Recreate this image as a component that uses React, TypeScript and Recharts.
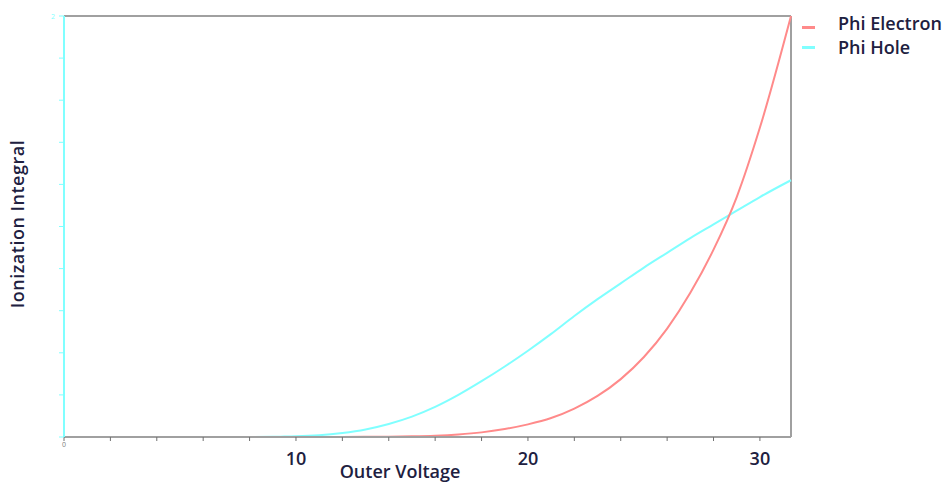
import React from 'react';
import { LineChart, Line, XAxis, YAxis, ReferenceLine, Legend } from 'recharts';

const voltage = [0.3, 2, 4, 6, 8, 9, 9.5, 10, 11, 12, 13, 14, 15, 16, 17, 18, 19, 20, 21, 22, 23, 24, 25, 26, 27, 28, 29, 30, 31.34];
const phiHole = [0, 0, 0, 0, 0, 0.001, 0.002, 0.003, 0.008, 0.019, 0.036, 0.062, 0.097, 0.143, 0.2, 0.265, 0.335, 0.41, 0.49, 0.575, 0.655, 0.73, 0.805, 0.875, 0.945, 1.01, 1.075, 1.14, 1.22];
const phiElectron = [null, null, null, null, null, null, 0, 0, 0.0002, 0.0004, 0.0008, 0.0015, 0.003, 0.006, 0.012, 0.022, 0.038, 0.06, 0.09, 0.135, 0.195, 0.275, 0.38, 0.515, 0.685, 0.89, 1.14, 1.47, 2.0];

const xTicks = [0, 2, 4, 6, 8, 10, 12, 14, 16, 18, 20, 22, 24, 26, 28, 30];
const xLabeled = [0, 10, 20, 30];
const yTicks = [0, 0.2, 0.4, 0.6, 0.8, 1, 1.2, 1.4, 1.6, 1.8, 2];
const X_MAX = 31.34;
const Y_MAX = 2;

const seriesNames = ['Phi Electron', 'Phi Hole'];
const RED = '#ff8a8a';
const CYAN = '#80ffff';
const FONT = '"Open Sans", sans-serif';
const TEXT = '#202040';

const rows = voltage.map((v, i) => ({ v, hole: phiHole[i], electron: phiElectron[i] }));

const XTick = (props: any) => {
  const { x, y, payload } = props;
  const val = payload.value;
  if (!xLabeled.includes(val)) return null;
  if (val === 0) {
    return (
      <text x={x} y={y + 4} textAnchor="middle" fontSize={7} fill="#808080" fontFamily={FONT}>
        0
      </text>
    );
  }
  return (
    <text x={x} y={y + 22} textAnchor="middle" fontSize={18} fontWeight={600} fill={TEXT} fontFamily={FONT}>
      {val}
    </text>
  );
};

const YTick = (props: any) => {
  const { x, y, payload } = props;
  if (payload.value !== 2) return null;
  return (
    <text x={x - 2} y={y + 2.5} textAnchor="end" fontSize={7} fill={CYAN} fontFamily={FONT}>
      2
    </text>
  );
};

const LegendBox = () => (
  <svg width={152} height={62} style={{ display: 'block' }}>
    <rect x={2} y={26} width={13} height={3} fill={RED} />
    <text x={38} y={29.5} fontSize={18} fontWeight={600} fill={TEXT} fontFamily={FONT}>
      {seriesNames[0]}
    </text>
    <rect x={2} y={46} width={13} height={3} fill={CYAN} />
    <text x={38} y={53.5} fontSize={18} fontWeight={600} fill={TEXT} fontFamily={FONT}>
      {seriesNames[1]}
    </text>
  </svg>
);

export default function App() {
  return (
    <div style={{ position: 'absolute', left: 0, top: 0, width: 952, height: 483, background: '#fff' }}>
      <LineChart width={952} height={483} data={rows} margin={{ top: 16, right: 161, bottom: 0, left: 0 }}>
        <XAxis
          dataKey="v"
          type="number"
          domain={[0, X_MAX]}
          ticks={xTicks}
          interval={0}
          height={46}
          axisLine={{ stroke: '#a0a0a0', strokeWidth: 2 }}
          tickLine={{ stroke: '#707070' }}
          tickSize={4}
          tick={XTick}
          label={{
            content: () => (
              <text x={400} y={478} textAnchor="middle" fontSize={18} fontWeight={600} fill={TEXT} fontFamily={FONT}>
                Outer Voltage
              </text>
            ),
          }}
        />
        <YAxis
          type="number"
          domain={[0, Y_MAX]}
          ticks={yTicks}
          interval={0}
          width={64}
          axisLine={{ stroke: CYAN, strokeWidth: 2 }}
          tickLine={{ stroke: CYAN }}
          tickSize={5}
          tick={YTick}
          label={{
            content: () => (
              <text
                x={17}
                y={224}
                transform="rotate(-90, 17, 224)"
                textAnchor="middle"
                dominantBaseline="central"
                fontSize={18}
                fontWeight={600}
                letterSpacing={0.5}
                fill={TEXT}
                fontFamily={FONT}
              >
                Ionization Integral
              </text>
            ),
          }}
        />
        <ReferenceLine y={Y_MAX} stroke="#a0a0a0" strokeWidth={2} />
        <ReferenceLine x={X_MAX} stroke="#a0a0a0" strokeWidth={2} />
        <Line
          dataKey="hole"
          name={seriesNames[1]}
          type="monotone"
          stroke={CYAN}
          strokeWidth={2}
          dot={false}
          isAnimationActive={false}
        />
        <Line
          dataKey="electron"
          name={seriesNames[0]}
          type="monotone"
          stroke={RED}
          strokeWidth={2}
          dot={false}
          connectNulls={false}
          isAnimationActive={false}
        />
        <Legend
          layout="vertical"
          align="center"
          verticalAlign="middle"
          content={LegendBox}
          wrapperStyle={{ position: 'absolute', left: 800, top: 0, width: 152, height: 62 }}
        />
      </LineChart>
    </div>
  );
}
